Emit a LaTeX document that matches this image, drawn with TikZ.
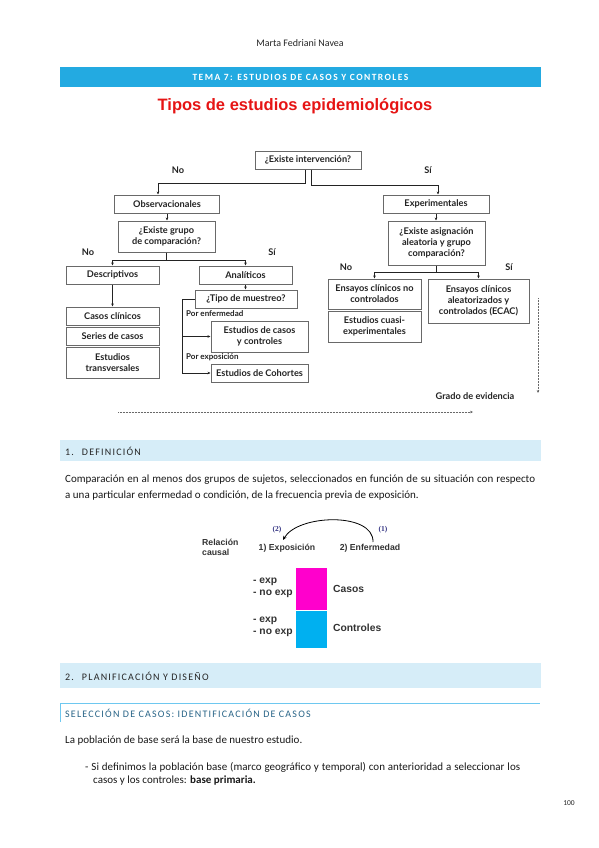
\documentclass[tikz,border=0pt]{standalone}
\usepackage{fontspec}
\setmainfont{Carlito}
\newfontfamily\flowfont{Lato}
\newfontfamily\arialfont{Liberation Sans}
\newfontfamily\serfont{Liberation Serif}
\newfontfamily\spacedfont[LetterSpace=12]{Carlito}
\newfontfamily\hdrfont[LetterSpace=15]{Carlito}
\usetikzlibrary{arrows.meta}
\definecolor{hdrblue}{RGB}{35,170,225}
\definecolor{secblue}{RGB}{214,237,248}
\definecolor{subblue}{RGB}{110,200,240}
\definecolor{subtext}{RGB}{40,100,135}
\definecolor{titlered}{RGB}{230,20,20}
\definecolor{flowgray}{RGB}{105,105,105}
\definecolor{flowtext}{RGB}{35,35,35}
\definecolor{magbox}{RGB}{255,0,204}
\definecolor{cyanbox}{RGB}{0,176,240}
\definecolor{numblue}{RGB}{50,50,130}
\tikzset{
  fbox/.style={draw=flowgray, line width=1pt, fill=white, inner sep=1pt,
    font=\flowfont\bfseries\fontsize{9.2}{10.8}\selectfont, text=flowtext, align=center},
  flab/.style={font=\flowfont\bfseries\fontsize{9.2}{10.8}\selectfont, text=flowtext, inner sep=0pt},
  plab/.style={font=\flowfont\bfseries\fontsize{8}{9}\selectfont, text=flowtext, inner sep=0pt, anchor=west},
  farr/.style={draw=flowtext, line width=0.6pt, -{Stealth[length=3pt,width=2.6pt]}},
  darr/.style={draw=flowgray, line width=0.5pt, densely dotted, -{Stealth[length=3pt,width=2.6pt]}},
  body/.style={font=\fontsize{11}{13}\selectfont, text=black!90, inner sep=0pt, anchor=west},
  sectxt/.style={font=\spacedfont\fontsize{10}{12}\selectfont, text=black!85, inner sep=0pt, anchor=west},
  ctext/.style={font=\arialfont\bfseries\fontsize{10.3}{12}\selectfont, text=black!80, inner sep=0pt},
  csmall/.style={font=\arialfont\bfseries\fontsize{8.7}{10}\selectfont, text=black!80, inner sep=0pt}
}
\begin{document}
\begin{tikzpicture}[x=1pt,y=-1pt]
\useasboundingbox (0,0) rectangle (599,848);
\fill[white] (0,0) rectangle (599,848);

% header
\node[font=\fontsize{10}{12}\selectfont, text=black!85, inner sep=0pt] (author) at (300,43) {Marta Fedriani Navea};
\fill[hdrblue] (60,67) rectangle (541,87);
\node[font=\hdrfont\bfseries\fontsize{9.5}{11}\selectfont, text=white, inner sep=0pt] (tema) at (300.5,77) {TEMA 7: ESTUDIOS DE CASOS Y CONTROLES};
\node[font=\arialfont\bfseries\fontsize{16.5}{19}\selectfont, text=titlered, inner sep=0pt] (title) at (295,106) {Tipos de estudios epidemiológicos};

% flowchart
\node[fbox, minimum width=106, minimum height=18] (int) at (308,160) {¿Existe intervención?};
\node[fbox, minimum width=105, minimum height=18] (obs) at (167,204) {Observacionales};
\node[fbox, minimum width=106, minimum height=18] (exper) at (436,204) {Experimentales};
\node[flab] (no1) at (178,170) {No};
\node[flab] (si1) at (428,170) {Sí};
\draw[farr] ([xshift=-3pt]int.south) -- ++(0,14) -| ([xshift=-9pt]obs.north);
\draw[farr] ([xshift=3pt]int.south) -- ++(0,16) -| ([xshift=2pt]exper.north);

\node[fbox, minimum width=97, minimum height=31] (grp) at (166.5,236.5) {¿Existe grupo\\de comparación?};
\draw[farr] (obs.south) -- (obs.south |- grp.north);
\node[fbox, minimum width=93, minimum height=18] (desc) at (112.5,275) {Descriptivos};
\node[fbox, minimum width=93, minimum height=18] (anal) at (245.5,275) {Analíticos};
\node[flab] (no2) at (88,252) {No};
\node[flab] (si2) at (272,252) {Sí};
\draw[farr] (grp.south) -- ++(0,8) -| (desc.north);
\draw[farr] (grp.south) -- ++(0,8) -| (anal.north);

\node[fbox, minimum width=93, minimum height=18] (cc) at (112.5,316) {Casos clínicos};
\node[fbox, minimum width=93, minimum height=18] (sc) at (112.5,336) {Series de casos};
\node[fbox, minimum width=93, minimum height=31] (et) at (112.5,362.5) {Estudios\\transversales};
\draw[farr] (desc.south) -- (cc.north);

\node[fbox, minimum width=102, minimum height=18] (tipo) at (246,299) {¿Tipo de muestreo?};
\draw[farr] (anal.south) -- (anal.south |- tipo.north);
\node[fbox, minimum width=97, minimum height=31] (ecc) at (259.5,336.5) {Estudios de casos\\y controles};
\node[fbox, minimum width=97, minimum height=18] (coh) at (259.5,373) {Estudios de Cohortes};
\node[plab] (penf) at (186,314) {Por enfermedad};
\node[plab] (pexp) at (186,357) {Por exposición};
\draw[farr] (tipo.west) -- ++(-12,0) |- (ecc.west);
\draw[farr] (tipo.west) -- ++(-12,0) |- (coh.west);

\node[fbox, minimum width=97, minimum height=44] (asig) at (436.5,243) {¿Existe asignación\\aleatoria y grupo\\comparación?};
\draw[farr] (exper.south) -- (exper.south |- asig.north);
\node[fbox, minimum width=93, minimum height=30] (ecnc) at (374.5,294) {Ensayos clínicos no\\controlados};
\node[fbox, minimum width=93, minimum height=31] (ecq) at (374.5,326.5) {Estudios cuasi-\\experimentales};
\node[fbox, minimum width=101, minimum height=44] (ecac) at (478.5,301) {Ensayos clínicos\\aleatorizados y\\controlados (ECAC)};
\node[flab] (no3) at (346,267) {No};
\node[flab] (si3) at (509,267) {Sí};
\draw[farr] (asig.south) -- ++(0,7) -| (ecnc.north);
\draw[farr] (asig.south) -- ++(0,7) -| (ecac.north);

\coordinate (dv1) at (538,298);
\coordinate (dv2) at (538,393);
\draw[darr] (dv1) -- (dv2);
\node[flab] (grado) at (475,396) {Grado de evidencia};
\coordinate (dh1) at (118,412);
\coordinate (dh2) at (473,412);
\draw[darr] (dh1) -- (dh2);

% section 1
\fill[secblue] (60,440) rectangle (541,461);
\node[sectxt] (s1) at (65,451) {1.\hspace{8pt}DEFINICIÓN};
\node[body] (p1) at (65,480) {\makebox[470pt][s]{Comparación en al menos dos grupos de sujetos, seleccionados en función de su situación con respecto}};
\node[body] (p2) at (65,496) {a una particular enfermedad o condición, de la frecuencia previa de exposición.};

% causal diagram
\node[csmall, align=left, anchor=west] (rel) at (202,547) {Relación\\causal};
\node[csmall] (expo) at (287,548) {1) Exposición};
\node[csmall] (enf) at (370,548) {2) Enfermedad};
\node[font=\serfont\bfseries\fontsize{7.5}{9}\selectfont, text=numblue, inner sep=0pt] (n2) at (277,530) {(2)};
\node[font=\serfont\bfseries\fontsize{7.5}{9}\selectfont, text=numblue, inner sep=0pt] (n1) at (383,530) {(1)};
\coordinate (cs) at (373,542);
\coordinate (ce) at (283,540);
\draw[line width=0.8pt, -{Stealth[length=4pt,width=3.5pt]}] (cs) .. controls (374,512) and (298,514) .. (ce);
\fill[magbox] (296,568) rectangle (327,610);
\fill[cyanbox] (296,611) rectangle (327,648);
\node[ctext, anchor=west] (e1) at (253,582) {- exp};
\node[ctext, anchor=west] (ne1) at (253,593.5) {- no exp};
\node[ctext, anchor=west] (e2) at (253,621) {- exp};
\node[ctext, anchor=west] (ne2) at (253,632.5) {- no exp};
\node[ctext, anchor=west] (casos) at (333,589) {Casos};
\node[ctext, anchor=west] (ctrl) at (333,628) {Controles};

% section 2
\fill[secblue] (60,663) rectangle (541,688);
\node[sectxt] (s2) at (65,676) {2.\hspace{8pt}PLANIFICACIÓN Y DISEÑO};
\draw[subblue, line width=1pt] (60,703) -- (540,703);
\draw[subblue, line width=1.5pt] (60.5,703) -- (60.5,722);
\node[sectxt, text=subtext] (sub) at (65,713) {SELECCIÓN DE CASOS: IDENTIFICACIÓN DE CASOS};
\node[body] (p3) at (65,741) {La población de base será la base de nuestro estudio.};
\node[body] (p4) at (85,767) {\makebox[435pt][s]{- Si definimos la población base (marco geográfico y temporal) con anterioridad a seleccionar los}};
\node[body] (p5) at (93,781) {casos y los controles: \textbf{base primaria.}};
\node[font=\fontsize{7.5}{9}\selectfont, text=black!85, inner sep=0pt] (pg) at (569,803) {100};
\end{tikzpicture}
\end{document}
